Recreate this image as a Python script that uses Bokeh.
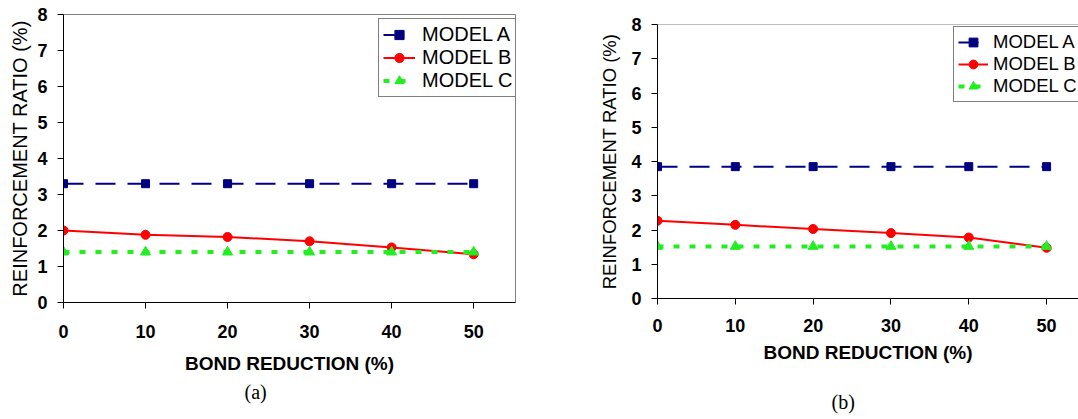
from bokeh.plotting import figure
from bokeh.layouts import row, column
from bokeh.models import Range1d, FixedTicker, Title, Span
from bokeh.embed import file_html
from bokeh.resources import INLINE

# ---------------- data ----------------
bond_reduction = [0, 10, 20, 30, 40, 50]
x_ticks = [0, 10, 20, 30, 40, 50]
y_ticks = [0, 1, 2, 3, 4, 5, 6, 7, 8]
series_names = ["MODEL A", "MODEL B", "MODEL C"]

a_model_a = [3.3, 3.3, 3.3, 3.3, 3.3, 3.3]
a_model_b = [2.0, 1.88, 1.82, 1.70, 1.53, 1.34]
a_model_c = [1.4, 1.4, 1.4, 1.4, 1.4, 1.4]

b_model_a = [3.85, 3.85, 3.85, 3.85, 3.85, 3.85]
b_model_b = [2.27, 2.15, 2.03, 1.91, 1.78, 1.48]
b_model_c = [1.52, 1.52, 1.52, 1.52, 1.52, 1.52]

x_title = "BOND REDUCTION (%)"
y_title = "REINFORCEMENT RATIO (%)"

NAVY = "#000080"
RED = "#FF0000"
GREEN = "#22EE22"
FONT = "Liberation Sans"


def make_panel(ya, yb, yc, caption, width, height, mb_left, mb_right, mb_top,
               mb_bottom, x_end, ylab_size, ylab_standoff, xtick_standoff,
               xlab_standoff, legend_loc, legend_font, legend_pad,
               legend_row, glyph_w, lab_standoff, cap_offset, cap_standoff,
               cap_gap=0, outline=True):
    p = figure(width=width, height=height, output_backend="svg",
               toolbar_location=None, x_range=Range1d(0, x_end),
               y_range=Range1d(0, 8),
               min_border_left=mb_left, min_border_right=mb_right,
               min_border_top=mb_top, min_border_bottom=mb_bottom)
    p.xgrid.visible = False
    p.ygrid.visible = False
    p.background_fill_color = "white"
    p.border_fill_color = "white"
    if outline:
        p.outline_line_color = "#808080"
    else:
        p.outline_line_color = None
        p.add_layout(Span(location=8, dimension="width",
                          line_color="#808080", line_width=1))

    # Model A
    p.line(bond_reduction, ya, line_color=NAVY, line_width=2,
           line_dash="20 12", legend_label=series_names[0])
    p.scatter(bond_reduction, ya, marker="square", size=8,
              fill_color=NAVY, line_color=NAVY, legend_label=series_names[0])
    # Model B
    p.line(bond_reduction, yb, line_color=RED, line_width=2,
           legend_label=series_names[1])
    p.scatter(bond_reduction, yb, marker="circle", size=9,
              fill_color=RED, line_color=RED, legend_label=series_names[1])
    # Model C
    p.line(bond_reduction, yc, line_color=GREEN, line_width=4,
           line_dash="6 10", legend_label=series_names[2])
    p.scatter(bond_reduction, yc, marker="triangle", size=10,
              fill_color=GREEN, line_color=GREEN, legend_label=series_names[2])

    # axes
    for ax in (p.xaxis[0], p.yaxis[0]):
        ax.axis_line_color = "black"
        ax.axis_line_width = 1
        ax.major_tick_line_color = "black"
        ax.major_tick_in = 0
        ax.major_tick_out = 6
        ax.minor_tick_line_color = None
        ax.major_label_text_font = FONT
        ax.major_label_text_font_style = "bold"
        ax.major_label_text_font_size = "18px"
        ax.major_label_text_color = "black"
        ax.axis_label_text_font = FONT
        ax.axis_label_text_color = "black"
    p.xaxis.ticker = FixedTicker(ticks=x_ticks)
    p.yaxis.ticker = FixedTicker(ticks=y_ticks)
    p.xaxis.axis_label = x_title
    p.xaxis.axis_label_text_font_style = "bold"
    p.xaxis.axis_label_text_font_size = "19px"
    p.xaxis.major_label_standoff = xtick_standoff
    p.xaxis.axis_label_standoff = xlab_standoff
    p.yaxis.axis_label = y_title
    p.yaxis.axis_label_text_font_style = "normal"
    p.yaxis.axis_label_text_font_size = ylab_size
    p.yaxis.major_label_standoff = 10
    p.yaxis.axis_label_standoff = ylab_standoff

    # legend
    lg = p.legend[0]
    lg.location = legend_loc
    lg.label_text_font = FONT
    lg.label_text_font_size = legend_font
    lg.label_text_color = "black"
    lg.padding = legend_pad
    lg.spacing = 0
    lg.margin = 0
    lg.label_height = legend_row
    lg.glyph_height = legend_row
    lg.glyph_width = glyph_w
    lg.label_standoff = lab_standoff
    lg.border_line_color = "black"
    lg.border_line_width = 1
    lg.background_fill_color = "white"
    lg.background_fill_alpha = 1.0

    # optional empty gap between the axis title and the caption
    if cap_gap > 0:
        gap = Title(text=" ", standoff=cap_gap, text_font_size="1px",
                    text_color="white")
        p.add_layout(gap, "below")

    # caption under the axis title
    cap = Title(text=caption, align="left", offset=cap_offset,
                standoff=cap_standoff, text_font="Liberation Serif",
                text_font_size="20px", text_font_style="normal",
                text_color="black")
    p.add_layout(cap, "below")
    return p


pa = make_panel(a_model_a, a_model_b, a_model_c, "(a)",
                width=540, height=419, mb_left=63, mb_right=25, mb_top=14,
                mb_bottom=117, x_end=55.1, ylab_size="20px", ylab_standoff=3,
                xtick_standoff=16, xlab_standoff=12, legend_loc=(315, 205),
                legend_font="20px", legend_pad=4, legend_row=23, glyph_w=32,
                lab_standoff=7, cap_offset=181, cap_standoff=5)

pb = make_panel(b_model_a, b_model_b, b_model_c, "(b)",
                width=538, height=419, mb_left=117, mb_right=0, mb_top=24,
                mb_bottom=121, x_end=54.1, ylab_size="18.5px", ylab_standoff=8,
                xtick_standoff=14, xlab_standoff=7, legend_loc=(296, 196),
                legend_font="18.5px", legend_pad=4, legend_row=22, glyph_w=30,
                lab_standoff=5, cap_offset=174, cap_standoff=0, cap_gap=20,
                outline=False)

layout = row(column(pa), column(pb), spacing=0)
open("out.html", "w").write(file_html(layout, INLINE))
